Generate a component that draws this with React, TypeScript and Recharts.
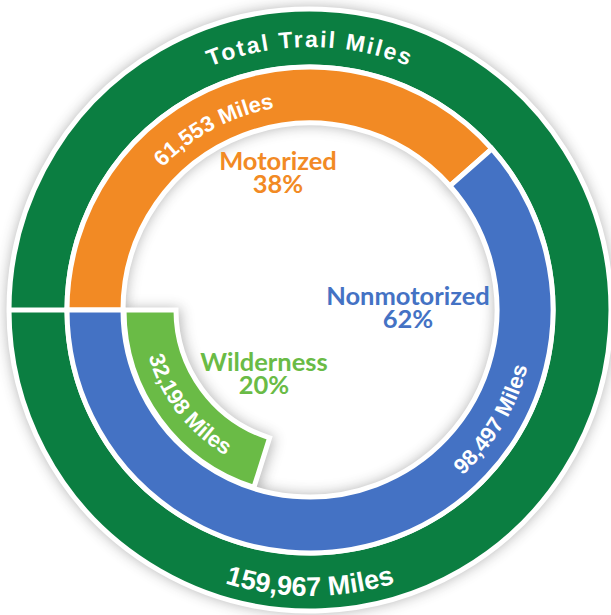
import { PieChart, Pie, Cell } from "recharts";

// trail mileage (from the graphic)
const totalTitle = "Total Trail Miles";
const totalMiles = [159967];
const useCategories = ["Motorized", "Nonmotorized"];
const useMiles = [61553, 98497];
const usePercents = [38, 62];
const wildernessCategory = "Wilderness";
const wildernessMiles = [32198];
const wildernessPercents = [20];

const GREEN = "#0B7E41";
const ORANGE = "#F28A24";
const BLUE = "#4472C4";
const LIGHT_GREEN = "#6ABB46";
const SHADOW = "#333";
const useColors = [ORANGE, BLUE];

const CX = 310;
const CY = 310;
const RAD = Math.PI / 180;
const RING_FONT = "'Liberation Sans', Arial, sans-serif";
const CENTER_FONT = "Lato, 'Open Sans', sans-serif";

const totalData = [{ name: totalTitle, value: totalMiles[0] }];
const useData = useCategories.map((name, i) => ({
  name,
  value: useMiles[i],
  percent: usePercents[i],
}));
const wildData = [
  { name: wildernessCategory, value: wildernessMiles[0], percent: wildernessPercents[0] },
  { name: "", value: totalMiles[0] - wildernessMiles[0], percent: 0 },
];

const miles = (v: number) => `${v.toLocaleString("en-US")} Miles`;

function arcPath(cx: number, cy: number, r: number, from: number, to: number) {
  const x1 = cx + r * Math.cos(from * RAD);
  const y1 = cy - r * Math.sin(from * RAD);
  const x2 = cx + r * Math.cos(to * RAD);
  const y2 = cy - r * Math.sin(to * RAD);
  const sweep = to < from ? 1 : 0;
  return `M${x1},${y1} A${r},${r} 0 0 ${sweep} ${x2},${y2}`;
}

// text bent along a circle; outward = glyph tops point away from centre
function CurvedText(props: {
  id: string;
  cx: number;
  cy: number;
  r: number;
  angle: number;
  outward: boolean;
  text: string;
  size: number;
  spacing?: number;
}) {
  const { id, cx, cy, r, angle, outward, text, size, spacing = 0 } = props;
  const from = outward ? angle + 85 : angle - 85;
  const to = outward ? angle - 85 : angle + 85;
  return (
    <g>
      <defs>
        <path id={id} d={arcPath(cx, cy, r, from, to)} fill="none" />
      </defs>
      <text
        fill="#fff"
        fontFamily={RING_FONT}
        fontWeight={700}
        fontSize={size}
        letterSpacing={spacing}
      >
        <textPath href={`#${id}`} startOffset="50%" textAnchor="middle">
          {text}
        </textPath>
      </text>
    </g>
  );
}

function CenterText(props: { x: number; y: number; color: string; name: string; pct: number }) {
  const { x, y, color, name, pct } = props;
  return (
    <text
      x={x}
      y={y}
      fill={color}
      fontFamily={CENTER_FONT}
      fontWeight={700}
      fontSize={25.5}
      textAnchor="middle"
    >
      <tspan x={x} y={y}>{name}</tspan>
      <tspan x={x} y={y + 23}>{`${pct}%`}</tspan>
    </text>
  );
}

const renderTotalLabel = (p: any) => {
  const mid = (p.innerRadius + p.outerRadius) / 2;
  return (
    <g key="total-label">
      <CurvedText id="arc-total-title" cx={p.cx} cy={p.cy} r={mid - 9} angle={90}
        outward text={totalTitle} size={23} spacing={2} />
      <CurvedText id="arc-total-miles" cx={p.cx} cy={p.cy} r={mid + 14} angle={270}
        outward={false} text={miles(p.value)} size={27} />
    </g>
  );
};

const renderUseLabel = (p: any) => {
  const mid = (p.innerRadius + p.outerRadius) / 2;
  if (p.index === 0) {
    return (
      <g key="use-0">
        <CurvedText id="arc-motorized" cx={p.cx} cy={p.cy} r={mid - 10} angle={118}
          outward text={miles(p.value)} size={22} />
        <CenterText x={p.cx - 32} y={p.cy - 140} color={ORANGE} name={p.name} pct={p.payload.percent} />
      </g>
    );
  }
  return (
    <g key="use-1">
      <CurvedText id="arc-nonmotorized" cx={p.cx} cy={p.cy} r={mid + 10} angle={329}
        outward={false} text={miles(p.value)} size={22} />
      <CenterText x={p.cx + 98} y={p.cy - 5} color={BLUE} name={p.name} pct={p.payload.percent} />
    </g>
  );
};

const renderWildLabel = (p: any) => {
  if (p.index !== 0) return null;
  const mid = (p.innerRadius + p.outerRadius) / 2;
  return (
    <g key="wild-0">
      <CurvedText id="arc-wilderness" cx={p.cx} cy={p.cy} r={mid + 8} angle={218}
        outward={false} text={miles(p.value)} size={22} />
      <CenterText x={p.cx - 46} y={p.cy + 61} color={LIGHT_GREEN} name={p.name} pct={p.payload.percent} />
    </g>
  );
};

const ring = {
  total: { innerRadius: 243, outerRadius: 301, startAngle: 180, endAngle: -180 },
  use: { innerRadius: 187, outerRadius: 243, startAngle: 180, endAngle: -180 },
  wild: { innerRadius: 134, outerRadius: 186, startAngle: 180, endAngle: 540 },
};

export default function App() {
  return (
    <div style={{ position: "absolute", left: 0, top: 0, background: "#fff" }}>
      <style>{`.ring-shadow { filter: blur(5px); opacity: 0.6; }`}</style>
      <PieChart width={611} height={615} margin={{ top: 0, right: 0, bottom: 0, left: 0 }}>
        {/* soft shadow copies, covered by the rings drawn after them */}
        <Pie className="ring-shadow" data={totalData} dataKey="value" cx={CX} cy={CY} {...ring.total}
          fill={SHADOW} stroke={SHADOW} strokeWidth={5} isAnimationActive={false} />
        <Pie className="ring-shadow" data={useData} dataKey="value" cx={CX} cy={CY} {...ring.use}
          fill={SHADOW} stroke={SHADOW} strokeWidth={5} isAnimationActive={false} />
        <Pie className="ring-shadow" data={wildData} dataKey="value" cx={CX + 2} cy={CY + 1} {...ring.wild}
          stroke={SHADOW} strokeWidth={5} isAnimationActive={false}>
          <Cell fill={SHADOW} />
          <Cell fill="none" stroke="none" />
        </Pie>

        <Pie data={totalData} dataKey="value" cx={CX} cy={CY} {...ring.total}
          fill={GREEN} stroke="#fff" strokeWidth={5} isAnimationActive={false} />
        <Pie data={useData} dataKey="value" cx={CX} cy={CY} {...ring.use}
          stroke="#fff" strokeWidth={5} isAnimationActive={false}>
          {useData.map((d, i) => (
            <Cell key={d.name} fill={useColors[i]} />
          ))}
        </Pie>
        <Pie data={wildData} dataKey="value" cx={CX} cy={CY} {...ring.wild}
          stroke="#fff" strokeWidth={5} isAnimationActive={false}>
          <Cell fill={LIGHT_GREEN} />
          <Cell fill="none" stroke="none" />
        </Pie>

        {/* label layers */}
        <Pie data={totalData} dataKey="value" cx={CX} cy={CY} {...ring.total}
          fill="none" stroke="none" label={renderTotalLabel} labelLine={false} isAnimationActive={false} />
        <Pie data={useData} dataKey="value" cx={CX} cy={CY} {...ring.use}
          fill="none" stroke="none" label={renderUseLabel} labelLine={false} isAnimationActive={false} />
        <Pie data={wildData} dataKey="value" cx={CX} cy={CY} {...ring.wild}
          fill="none" stroke="none" label={renderWildLabel} labelLine={false} isAnimationActive={false} />
      </PieChart>
    </div>
  );
}
